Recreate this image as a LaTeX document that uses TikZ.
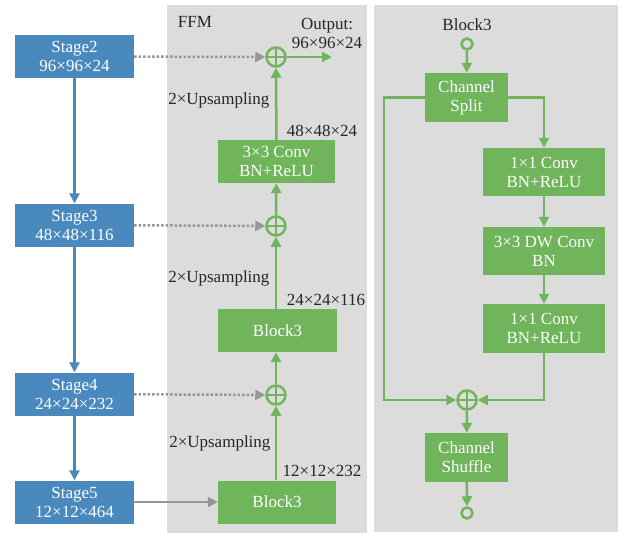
\documentclass[tikz,border=0pt]{standalone}
\usepackage{fontspec}
\setmainfont{Liberation Serif}
\usetikzlibrary{arrows.meta}

\definecolor{stageblue}{RGB}{74,137,189}
\definecolor{opgreen}{RGB}{112,180,92}
\definecolor{panelgray}{RGB}{220,220,220}
\definecolor{linkgray}{RGB}{150,150,150}

\begin{document}
\begin{tikzpicture}[x=1pt, y=-1pt,
		every node/.style={font=\fontsize{17}{19}\selectfont, text=black!85},
		stagebox/.style={fill=stageblue, text=white, minimum width=119pt, minimum height=43pt, inner sep=0pt, align=center},
		opbox/.style={fill=opgreen, text=white, minimum height=43pt, inner sep=0pt, align=center},
		addop/.style={circle, draw=opgreen, line width=2.5pt, minimum size=19pt, inner sep=0pt,
			path picture={\draw[opgreen, line width=2.5pt] (path picture bounding box.north) -- (path picture bounding box.south)
				(path picture bounding box.west) -- (path picture bounding box.east);}},
		port/.style={circle, draw=opgreen, line width=2.5pt, minimum size=11pt, inner sep=0pt},
		blueflow/.style={draw=stageblue, line width=2.5pt, -{Triangle[length=10pt, width=10pt]}},
		greenflow/.style={draw=opgreen, line width=2.5pt, -{Triangle[length=10pt, width=10pt]}},
		skip/.style={draw=linkgray, line width=2.5pt, dotted, -{Triangle[length=10pt, width=10pt]}},
		feed/.style={draw=linkgray, line width=2.5pt, -{Triangle[length=10pt, width=10pt]}}]
	\useasboundingbox (0,0) rectangle (622,533);
	% panels
	\fill[panelgray] (167,5) rectangle (367,533);
	\fill[panelgray] (374,5) rectangle (618,532);

	% backbone stages
	\node[stagebox] (stage2) at (74.5,56.5) {Stage2\\96×96×24};
	\node[stagebox] (stage3) at (74.5,225) {Stage3\\48×48×116};
	\node[stagebox] (stage4) at (74.5,394) {Stage4\\24×24×232};
	\node[stagebox] (stage5) at (74.5,502) {Stage5\\12×12×464};
	\foreach \a/\b in {stage2/stage3, stage3/stage4, stage4/stage5}
		\draw[blueflow] (\a) -- (\b);

	% FFM
	\node (ffm) at (195,22) {FFM};
	\node[addop] (add1) at (276,57) {};
	\node[addop] (add2) at (276,226) {};
	\node[addop] (add3) at (276,395) {};
	\node[opbox, minimum width=117pt] (conv) at (276.5,161.5) {3×3 Conv\\BN+ReLU};
	\node[opbox, minimum width=119pt] (blockmid) at (277.5,330.5) {Block3};
	\node[opbox, minimum width=118pt] (blocklow) at (277,502) {Block3};
	\coordinate (out) at (332,57);
	\node (outlabel) at (327,33) [align=center] {Output:\\96×96×24};

	\draw[greenflow] (conv) -- (add1);
	\draw[greenflow] (add2) -- (conv);
	\draw[greenflow] (blockmid.north -| add2) -- (add2);
	\draw[greenflow] (add3) -- (blockmid.south -| add3);
	\draw[greenflow] (blocklow.north -| add3) -- (add3);
	\draw[greenflow] (add1) -- (out);
	\draw[skip] (stage2) -- (add1);
	\draw[skip] (stage3) -- (add2);
	\draw[skip] (stage4) -- (add3);
	\draw[feed] (stage5) -- (blocklow);

	\node[anchor=east] (up1) at (273,100) {2×Upsampling};
	\node[anchor=east] (up2) at (273,278) {2×Upsampling};
	\node[anchor=east] (up3) at (274,443) {2×Upsampling};
	\node (size1) at (322,131) {48×48×24};
	\node (size2) at (326,300) {24×24×116};
	\node (size3) at (322,471) {12×12×232};

	% Block3 detail
	\node (blocktitle) at (467,25) {Block3};
	\node[port] (bin) at (467,44) {};
	\node[opbox, minimum width=83pt, minimum height=49pt] (split) at (466.5,97.5) {Channel\\Split};
	\node[opbox, minimum width=122pt, minimum height=48pt] (pw1) at (544,172) {1×1 Conv\\BN+ReLU};
	\node[opbox, minimum width=122pt, minimum height=48pt] (dw) at (544,251) {3×3 DW Conv\\BN};
	\node[opbox, minimum width=122pt, minimum height=49pt] (pw2) at (544,328.5) {1×1 Conv\\BN+ReLU};
	\node[addop] (badd) at (467,400) {};
	\node[opbox, minimum width=83pt, minimum height=49pt] (shuffle) at (466.5,457.5) {Channel\\Shuffle};
	\node[port] (bout) at (467,513) {};
	\coordinate (bypass) at (384,400);

	\draw[greenflow] (bin) -- (split);
	\draw[greenflow] (split.west) -| (bypass) -- (badd);
	\draw[greenflow] (split.east) -| (pw1.north);
	\draw[greenflow] (pw1) -- (dw);
	\draw[greenflow] (dw) -- (pw2);
	\draw[greenflow] (pw2.south) |- (badd);
	\draw[greenflow] (badd) -- (shuffle);
	\draw[greenflow] (shuffle) -- (bout);
\end{tikzpicture}
\end{document}
